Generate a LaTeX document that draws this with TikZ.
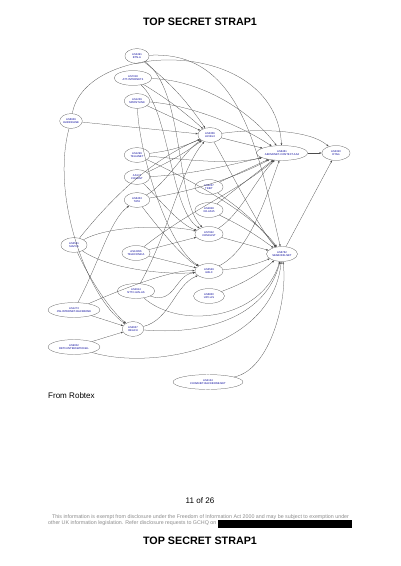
\documentclass[tikz,border=0pt]{standalone}
\usepackage{fontspec}
\setmainfont{Liberation Sans}
\usetikzlibrary{shapes.geometric,arrows.meta}
\tikzset{
 asnode/.style={ellipse, draw=black!70, line width=0.35pt, inner sep=0pt, minimum height=22pt, align=center, font=\fontsize{4}{4.6}\selectfont, text=blue!60!black},
 link/.style={draw=black!70, line width=0.38pt, -{Latex[length=3.2pt,width=2.6pt]}},
 pagetext/.style={inner sep=0pt, text=black},
}
\begin{document}
\begin{tikzpicture}[x=1.4875pt,y=-1.4875pt]
\useasboundingbox[fill=white] (0,0) rectangle (400,566);
% page texts
\node[pagetext, font=\bfseries\fontsize{16}{18}\selectfont] (title) at (200,22) {TOP SECRET STRAP1};
\node[pagetext, font=\bfseries\fontsize{16}{18}\selectfont] (title2) at (200,541) {TOP SECRET STRAP1};
\node[pagetext, anchor=west, font=\fontsize{12}{14}\selectfont] (src) at (48,396) {From Robtex};
\node[pagetext, font=\fontsize{12}{14}\selectfont] (pg) at (200,501) {11 of 26};
\node[pagetext, text=black!45, font=\fontsize{7.9}{9}\selectfont] (foot1) at (200.5,517) {This information is exempt from disclosure under the Freedom of Information Act 2000 and may be subject to exemption under};
\node[pagetext, anchor=west, text=black!45, font=\fontsize{7.9}{9}\selectfont] (foot2) at (48,523.5) {other UK information legislation. Refer disclosure requests to GCHQ on};
\fill[black] (218,520) rectangle (352,527.5);
% nodes
\node[asnode, minimum width=36pt] (a1) at (137,56) {AS3491\\BTN-A};
\node[asnode, minimum width=56pt] (a2) at (133,78) {AS7018\\ATT-INTERNET4};
\node[asnode, minimum width=38pt] (a3) at (137,101) {AS1239\\SPRINTLINK};
\node[asnode, minimum width=32pt] (l1) at (71,121) {AS6939\\HURRICANE};
\node[asnode, minimum width=36pt] (c) at (210,135) {AS3356\\LEVEL3};
\node[asnode, minimum width=38pt] (a4) at (137,155) {AS1299\\TELIANET};
\node[asnode, minimum width=38pt] (a5) at (137,177) {AS174\\COGENT};
\node[asnode, minimum width=38pt] (a6) at (137,200) {AS6453\\TATA};
\node[asnode, minimum width=76pt] (r1) at (282,153) {AS6461\\ABOVENET-CONTEXT-AS4};
\node[asnode, minimum width=42pt] (r2) at (336,153) {AS3320\\DTAG};
\node[asnode, minimum width=42pt] (m1) at (209,187) {AS3257\\TINET};
\node[asnode, minimum width=42pt] (m2) at (209,210) {AS2828\\XO-AS15};
\node[asnode, minimum width=39pt] (l2) at (74,245) {AS3561\\SAVVIS};
\node[asnode, minimum width=42pt] (m3) at (209,234) {AS7922\\COMCAST};
\node[asnode, minimum width=42pt] (a7) at (136,253) {AS12956\\TELEFONICA};
\node[asnode, minimum width=46pt] (r3) at (282,254) {AS6762\\SEABONE-NET};
\node[asnode, minimum width=42pt] (m4) at (209,271) {AS3549\\GBLX};
\node[asnode, minimum width=56pt] (a8) at (136,291) {AS2914\\NTTC-GIN-AS};
\node[asnode, minimum width=46pt] (m5) at (209,296) {AS6830\\UPC-AS};
\node[asnode, minimum width=77pt] (l3) at (74,310) {AS1273\\CW-INTERNET-BACKBONE};
\node[asnode, minimum width=32pt] (a9) at (133,329) {AS4637\\REACH};
\node[asnode, minimum width=77pt] (l4) at (74,347) {AS9002\\RETN-INTERNATIONAL};
\node[asnode, minimum width=104pt] (b) at (208,382) {AS4134\\CHINANET-BACKBONE-NET};
% edges
\draw[link] (a1) to[bend left=8] (c);
\draw[link] (a1) .. controls (240,50) and (258,150) .. (r3);
\draw[link] (a1) .. controls (185,90) and (175,200) .. (m3);
\draw[link] (a2) to[bend left=5] (c);
\draw[link] (a2) .. controls (200,80) and (250,110) .. (r1);
\draw[link] (a2) .. controls (170,110) and (170,210) .. (m3);
\draw[link] (a3) to (c);
\draw[link] (a3) .. controls (190,105) and (240,125) .. (r1);
\draw[link] (a3) .. controls (140,160) and (170,250) .. (m4);
\draw[link] (l1) to (c);
\draw[link] (l1) .. controls (85,40) and (275,35) .. (r1);
\draw[link] (l1) .. controls (50,200) and (90,300) .. (a9);
\draw[link] (c) to (r1);
\draw[link] (c) .. controls (260,128) and (310,130) .. (r2);
\draw[link] (c) .. controls (230,170) and (260,230) .. (r3);
\draw[link] (a4) to[bend right=8] (c);
\draw[link] (a4) .. controls (190,160) and (230,165) .. (r1);
\draw[link] (a4) .. controls (180,175) and (250,210) .. (r3);
\draw[link] (a5) to[bend right=5] (c);
\draw[link] (a5) .. controls (190,175) and (230,165) .. (r1);
\draw[link] (a5) .. controls (160,200) and (180,225) .. (m3);
\draw[link] (a6) .. controls (165,185) and (185,150) .. (c);
\draw[link] (a6) .. controls (200,190) and (240,175) .. (r1);
\draw[link] (a6) .. controls (160,230) and (185,260) .. (m4);
\draw[link] (r1) to (r2);
\draw[link] (m1) to (r1);
\draw[link] (m1) to[bend left=8] (r3);
\draw[link] (m2) to (r1);
\draw[link] (m2) to[bend left=5] (r3);
\draw[link] (l2) .. controls (110,200) and (150,160) .. (c);
\draw[link] (l2) .. controls (110,225) and (170,225) .. (m3);
\draw[link] (l2) .. controls (110,270) and (170,275) .. (m4);
\draw[link] (l2) .. controls (90,280) and (110,310) .. (a9);
\draw[link] (m3) .. controls (240,215) and (255,180) .. (r1);
\draw[link] (m3) to (r3);
\draw[link] (a7) to (m3);
\draw[link] (a7) to (m4);
\draw[link] (a7) .. controls (190,210) and (240,190) .. (r1);
\draw[link] (r3) to (r2);
\draw[link] (m4) to[bend right=8] (r3);
\draw[link] (m4) .. controls (250,250) and (265,200) .. (r1);
\draw[link] (a8) .. controls (175,305) and (175,275) .. (m4);
\draw[link] (a8) .. controls (180,330) and (262,320) .. (r3);
\draw[link] (a8) .. controls (170,230) and (180,170) .. (c);
\draw[link] (m5) to[bend right=10] (r3);
\draw[link] (l3) to (a9);
\draw[link] (l3) .. controls (120,290) and (170,270) .. (m4);
\draw[link] (l3) .. controls (100,260) and (110,220) .. (a6);
\draw[link] (a9) .. controls (170,320) and (175,285) .. (m4);
\draw[link] (a9) .. controls (200,335) and (265,320) .. (r3);
\draw[link] (l4) to (a9);
\draw[link] (l4) .. controls (150,370) and (272,350) .. (r3);
\draw[link] (b) .. controls (270,370) and (288,300) .. (r3);
\end{tikzpicture}
\end{document}
